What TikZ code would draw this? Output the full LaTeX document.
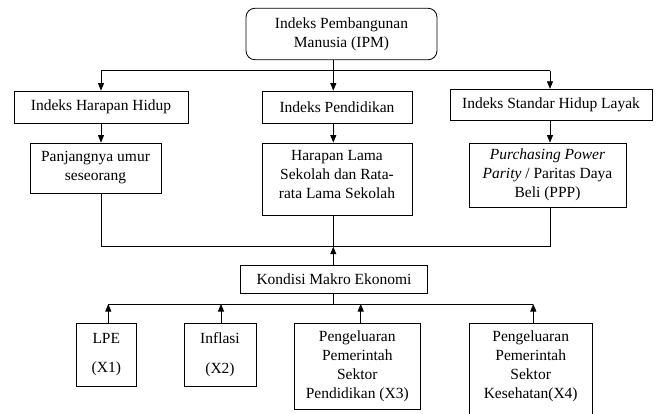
\documentclass[tikz,border=0pt]{standalone}
\usepackage{fontspec}
\setmainfont{Liberation Serif}
\usetikzlibrary{arrows.meta}
\newcommand{\diagfont}{\fontsize{15.5}{19}\selectfont}
\begin{document}
\begin{tikzpicture}[x=1pt,y=-1pt,
  line width=0.8pt,
  box/.style={draw, line width=0.8pt, inner sep=0pt, align=center, font=\diagfont},
  arr/.style={-{Triangle[length=7.5pt,width=6pt]}}]
\useasboundingbox (0,0) rectangle (659,414);
% top
\node[box, rounded corners=9pt, minimum width=191pt, minimum height=51.5pt] (ipm) at (341.5,34) {Indeks Pembangunan\\Manusia (IPM)};
% row 1
\node[box, minimum width=174pt, minimum height=32pt] (ihh) at (101,107) {Indeks Harapan Hidup};
\node[box, minimum width=150pt, minimum height=32pt] (ip) at (337,107) {Indeks Pendidikan};
\node[box, minimum width=202pt, minimum height=31.5pt] (ishl) at (551,105) {Indeks Standar Hidup Layak};
% row 2
\node[box, minimum width=131pt, minimum height=50pt] (pu) at (95.5,168) {Panjangnya umur\\seseorang};
\node[draw, line width=0.8pt, inner sep=0pt, minimum width=150pt, minimum height=72pt] (hl) at (337,179) {};
\node[font=\diagfont, align=center, inner sep=0pt] (hlt) at (337,175) {Harapan Lama\\Sekolah dan Rata-\\rata Lama Sekolah};
\node[box, minimum width=157pt, minimum height=64pt] (ppp) at (547.5,175) {\textit{Purchasing Power}\\\textit{Parity} / Paritas Daya\\Beli (PPP)};
% middle
\node[box, minimum width=186.5pt, minimum height=27.6pt] (km) at (334,279.5) {Kondisi Makro Ekonomi};
% bottom row
\node[box, minimum width=59.3pt, minimum height=62.5pt] (lpe) at (106.3,354.7) {LPE\\[10.6pt](X1)};
\node[box, minimum width=72pt, minimum height=62.5pt] (inf) at (220,354.7) {Inflasi\\[10.6pt](X2)};
\node[box, minimum width=126.5pt, minimum height=86pt] (x3) at (357.3,366.6) {Pengeluaran\\Pemerintah\\Sektor\\Pendidikan (X3)};
\node[draw, line width=0.8pt, inner sep=0pt, minimum width=122.7pt, minimum height=100pt] (x4) at (530.7,373.5) {};
\node[font=\diagfont, align=center, inner sep=0pt] (x4t) at (530.7,366.6) {Pengeluaran\\Pemerintah\\Sektor\\Kesehatan(X4)};
% coordinates
\coordinate (spine) at (333.3,70.7);
\coordinate (join) at (333.3,246.7);
\coordinate (join2) at (333.3,304);
\coordinate (rc) at ([xshift=-1pt]ishl.north);
% top connectors
\draw (ipm.south -| spine) -- (spine);
\draw (ihh.north |- spine) -- (rc |- spine);
\draw[arr] (ihh.north |- spine) -- (ihh.north);
\draw[arr] (spine) -- (spine |- ip.north);
\draw[arr] (rc |- spine) -- (rc);
% row1 -> row2
\draw[arr] (ihh.south) -- (ihh.south |- pu.north);
\draw[arr] (spine |- ip.south) -- (spine |- hl.north);
\draw[arr] (rc |- ishl.south) -- (rc |- ppp.north);
% row2 -> join
\draw (ihh.south |- pu.south) -- (ihh.south |- join) -- (rc |- join) -- (rc |- ppp.south);
\draw (join |- hl.south) -- (join);
\draw[arr] (join |- km.north) -- (join);
% km -> bottom
\draw (join |- km.south) -- (join2);
\coordinate (b1) at ([xshift=2pt]lpe.north);
\coordinate (b2) at ([xshift=1pt]inf.north);
\coordinate (b3) at ([xshift=3.4pt]x3.north);
\coordinate (b4) at ([xshift=2.6pt]x4.north);
\draw (b1 |- join2) -- (b4 |- join2);
\draw[arr] (b1) -- (b1 |- join2);
\draw[arr] (b2) -- (b2 |- join2);
\draw[arr] (b3) -- (b3 |- join2);
\draw[arr] (b4) -- (b4 |- join2);
\end{tikzpicture}
\end{document}
